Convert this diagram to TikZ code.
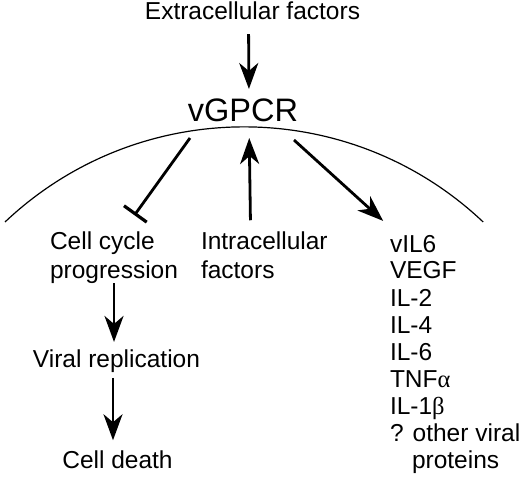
\documentclass[tikz,border=0pt]{standalone}
\usepackage{fontspec}
\setmainfont{Liberation Sans}
\newfontfamily\grk{Liberation Serif}
\usetikzlibrary{arrows.meta}
\tikzset{
  lbl/.style={inner sep=0pt, outer sep=0pt, font=\fontsize{24.5}{28}\selectfont, anchor=base west},
  arr/.style={line width=2.8pt, -{Stealth[length=26pt,width=19pt,inset=8pt]}},
  inh/.style={line width=2.8pt, -{Bar[width=28pt,line width=3.2pt]}},
}
\begin{document}
\begin{tikzpicture}[x=1pt,y=-1pt]
\useasboundingbox (0,0) rectangle (520,484);
% membrane
\draw[line width=1.2pt] (5,222) arc[start angle=-133.4, end angle=-46.6, radius=348];
% nodes
\node[lbl, anchor=base] (ext) at (252.5,20) {Extracellular factors};
\node[lbl, anchor=base, font=\fontsize{32.5}{36}\selectfont] (vg) at (243,121.7) {vGPCR};
\node[lbl] (cc1) at (50,250) {Cell cycle};
\node[lbl] (cc2) at (50,278) {progression};
\node[lbl] (in1) at (201,250) {Intracellular};
\node[lbl] (in2) at (201,278) {factors};
\node[lbl, anchor=base] (vr) at (116.5,367.7) {Viral replication};
\node[lbl, anchor=base] (cd) at (117.5,468) {Cell death};
\node[lbl] (p1) at (390,252) {vIL6};
\node[lbl] (p2) at (390,279) {VEGF};
\node[lbl] (p3) at (390,306) {IL-2};
\node[lbl] (p4) at (390,333) {IL-4};
\node[lbl] (p5) at (390,360) {IL-6};
\node[lbl] (p6) at (390,387) {TNF{\grk α}};
\node[lbl] (p7) at (390,414) {IL-1{\grk β}};
\node[lbl] (p8) at (390,441) {? other viral};
\node[lbl] (p9) at (412,468) {proteins};
% connectors
\draw[arr, shorten <=14pt, shorten >=10pt] ([xshift=-4pt]ext.south) -- ([xshift=6pt]vg.north);
\draw[inh] ([xshift=-53pt,yshift=-16pt]vg.south) -- ([xshift=32pt,yshift=17pt]cc1.north);
\draw[arr, shorten <=12pt, shorten >=16pt] ([xshift=-13.7pt]in1.north) -- ([xshift=6pt]vg.south);
\draw[arr] ([xshift=51pt,yshift=-18pt]vg.south) -- ([xshift=-30pt,yshift=14pt]p1.north);
\draw[arr, shorten >=8pt] (cc2.south) -- (cc2.south |- vr.north);
\draw[arr, shorten <=5pt, shorten >=10pt] ([xshift=-3.5pt]vr.south) -- ([xshift=-4.5pt]cd.north);
\end{tikzpicture}
\end{document}
